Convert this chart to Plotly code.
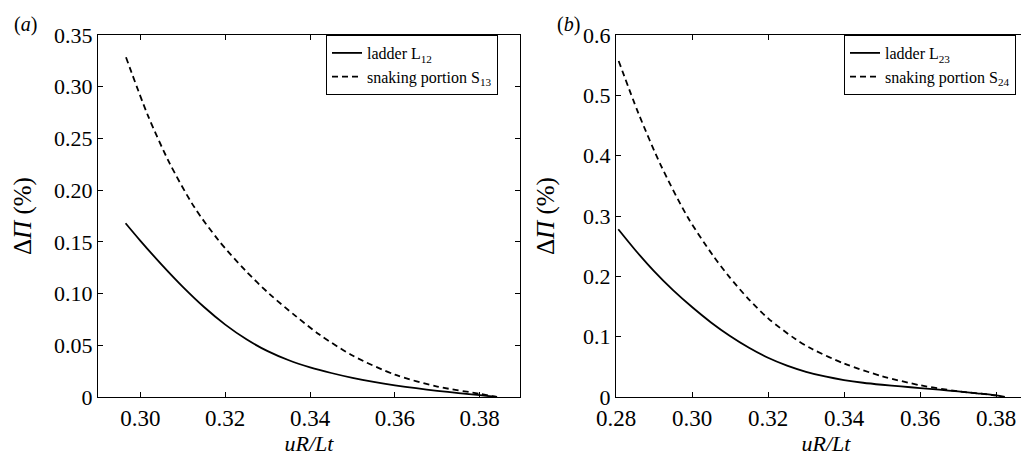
import plotly.graph_objects as go

# panel (a)
xa_ladder = [0.2965, 0.300, 0.305, 0.310, 0.315, 0.320, 0.325, 0.330, 0.335, 0.340, 0.345,
             0.350, 0.355, 0.360, 0.365, 0.370, 0.375, 0.380, 0.3841]
ya_ladder = [0.168, 0.151, 0.128, 0.1065, 0.087, 0.070, 0.0558, 0.0443, 0.0355, 0.0287, 0.0232,
             0.0185, 0.0146, 0.0113, 0.0085, 0.0060, 0.0038, 0.0018, 0.0]
xa_snake = [0.2966, 0.3018, 0.3069, 0.3127, 0.3185, 0.3248, 0.3304, 0.3367, 0.3422, 0.350,
            0.360, 0.370, 0.380, 0.384]
ya_snake = [0.3285, 0.2718, 0.2259, 0.1836, 0.1511, 0.1221, 0.0997, 0.0780, 0.0604, 0.0401,
            0.0216, 0.0101, 0.0031, 0.0]

# panel (b)
xb_ladder = [0.2806, 0.285, 0.290, 0.295, 0.300, 0.305, 0.310, 0.315, 0.320, 0.325, 0.330,
             0.335, 0.340, 0.345, 0.350, 0.355, 0.360, 0.365, 0.370, 0.375, 0.380, 0.3823]
yb_ladder = [0.278, 0.2441, 0.2086, 0.1771, 0.1491, 0.1236, 0.1011, 0.0816, 0.0650, 0.0520, 0.0418,
             0.0340, 0.0280, 0.0236, 0.0203, 0.0175, 0.0148, 0.0121, 0.0093, 0.0061, 0.0026, 0.0]
xb_snake = [0.2807, 0.2859, 0.2918, 0.2988, 0.3054, 0.3097, 0.315, 0.3201, 0.3271, 0.3316,
            0.340, 0.350, 0.360, 0.370, 0.380, 0.3815]
yb_snake = [0.557, 0.4702, 0.3841, 0.2987, 0.2355, 0.200, 0.1615, 0.1300, 0.0965, 0.0795,
            0.0555, 0.0345, 0.0195, 0.0095, 0.0025, 0.0]

xa_ticks = [0.30, 0.32, 0.34, 0.36, 0.38]
xa_labels = ["0.30", "0.32", "0.34", "0.36", "0.38"]
ya_ticks = [0, 0.05, 0.10, 0.15, 0.20, 0.25, 0.30, 0.35]
ya_labels = ["0", "0.05", "0.10", "0.15", "0.20", "0.25", "0.30", "0.35"]
xb_ticks = [0.28, 0.30, 0.32, 0.34, 0.36, 0.38]
xb_labels = ["0.28", "0.30", "0.32", "0.34", "0.36", "0.38"]
yb_ticks = [0, 0.1, 0.2, 0.3, 0.4, 0.5, 0.6]
yb_labels = ["0", "0.1", "0.2", "0.3", "0.4", "0.5", "0.6"]

FONT = "Liberation Serif, Times New Roman, serif"
lw = 1.8
dash = "6px,4px"

fig = go.Figure()
fig.add_trace(go.Scatter(x=xa_ladder, y=ya_ladder, mode="lines", name="ladder L<sub>12</sub>",
                         line=dict(color="black", width=lw, shape="spline", smoothing=0.8),
                         xaxis="x", yaxis="y", legend="legend"))
fig.add_trace(go.Scatter(x=xa_snake, y=ya_snake, mode="lines", name="snaking portion S<sub>13</sub>",
                         line=dict(color="black", width=lw, dash=dash, shape="spline", smoothing=0.8),
                         xaxis="x", yaxis="y", legend="legend"))
fig.add_trace(go.Scatter(x=xb_ladder, y=yb_ladder, mode="lines", name="ladder L<sub>23</sub>",
                         line=dict(color="black", width=lw, shape="spline", smoothing=0.8),
                         xaxis="x2", yaxis="y2", legend="legend2"))
fig.add_trace(go.Scatter(x=xb_snake, y=yb_snake, mode="lines", name="snaking portion S<sub>24</sub>",
                         line=dict(color="black", width=lw, dash=dash, shape="spline", smoothing=0.8),
                         xaxis="x2", yaxis="y2", legend="legend2"))

W, H = 1029, 459
ml, mr, mt, mb = 90, 1, 27, 70
pw = W - ml - mr
ph = H - mt - mb

axis_common = dict(showline=True, linecolor="black", linewidth=1, mirror="ticks", ticks="inside",
                   ticklen=5, tickcolor="black", showgrid=False, zeroline=False)
xtick_font = dict(family=FONT, size=23, color="black")
ytick_font = dict(family=FONT, size=22, color="black")
xtitle_font = dict(family=FONT, size=22, color="black")
ytitle_font = dict(family=FONT, size=25, color="black")
legend_common = dict(xanchor="left", yanchor="top", bordercolor="black", borderwidth=1, bgcolor="white",
                     font=dict(family=FONT, size=16, color="black"), tracegroupgap=0, itemwidth=30)


def px_x(p):
    return (p - ml) / pw


fig.update_layout(
    width=W, height=H,
    margin=dict(l=ml, r=mr, t=mt, b=mb),
    paper_bgcolor="white", plot_bgcolor="white",
    font=dict(family=FONT, color="black"),
    xaxis=dict(domain=[0, px_x(512)], range=[0.29, 0.3895], tickvals=xa_ticks, ticktext=xa_labels,
               tickfont=xtick_font,
               title=dict(text="<i>uR/Lt</i>", font=xtitle_font, standoff=6), **axis_common),
    yaxis=dict(domain=[0, 1], range=[0, 0.35], tickvals=ya_ticks, ticktext=ya_labels, tickfont=ytick_font,
               **axis_common),
    xaxis2=dict(domain=[px_x(608), 1], range=[0.28, 0.3905], tickvals=xb_ticks, ticktext=xb_labels,
                tickfont=xtick_font, anchor="y2",
                title=dict(text="<i>uR/Lt</i>", font=xtitle_font, standoff=6), **axis_common),
    yaxis2=dict(domain=[0, 1], range=[0, 0.6], tickvals=yb_ticks, ticktext=yb_labels, anchor="x2",
                tickfont=ytick_font, **axis_common),
    legend=dict(x=px_x(318), y=(ph + mt - 27) / ph, **legend_common),
    legend2=dict(x=px_x(836), y=(ph + mt - 27) / ph, **legend_common),
    annotations=[
        dict(text="(<i>a</i>)", xref="paper", yref="paper", x=px_x(4), y=(H - mb - 16) / ph,
             xanchor="left", yanchor="middle", showarrow=False, font=dict(family=FONT, size=20)),
        dict(text="(<i>b</i>)", xref="paper", yref="paper", x=px_x(547), y=(H - mb - 16) / ph,
             xanchor="left", yanchor="middle", showarrow=False, font=dict(family=FONT, size=20)),
        dict(text="Δ<i>Π</i> (%)", xref="paper", yref="paper", x=px_x(15), y=0.5, textangle=-90,
             xanchor="center", yanchor="middle", showarrow=False, font=ytitle_font),
        dict(text="Δ<i>Π</i> (%)", xref="paper", yref="paper", x=px_x(538), y=0.5, textangle=-90,
             xanchor="center", yanchor="middle", showarrow=False, font=ytitle_font),
    ],
    showlegend=True,
)

fig.write_html("out.html")
